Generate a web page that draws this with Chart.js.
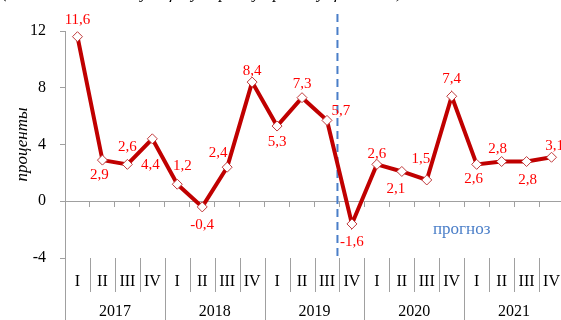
<!DOCTYPE html>
<html>
<head>
<meta charset="utf-8">
<script src="https://cdn.jsdelivr.net/npm/chart.js@4.4.1/dist/chart.umd.min.js"></script>
<style>
  html, body { margin: 0; padding: 0; background: #fff; overflow: hidden; }
  #wrap { position: relative; width: 570px; height: 320px; }
  #note { position: absolute; left: 2px; top: -17px; font: italic 17px "Liberation Serif", serif; white-space: nowrap; color: #000; }
</style>
</head>
<body>
<div id="wrap">
  <canvas id="chart" width="570" height="320" style="width:570px;height:320px"></canvas>
  <div id="note">(в % к соответствующему периоду предыдущего года)</div>
</div>
<script>
const quarters = ['I', 'II', 'III', 'IV', 'I', 'II', 'III', 'IV', 'I', 'II', 'III', 'IV',
                  'I', 'II', 'III', 'IV', 'I', 'II', 'III', 'IV'];
const years = ['2017', '2018', '2019', '2020', '2021'];
const growth = [11.6, 2.9, 2.6, 4.4, 1.2, -0.4, 2.4, 8.4, 5.3, 7.3, 5.7, -1.6,
                2.6, 2.1, 1.5, 7.4, 2.6, 2.8, 2.8, 3.1];
const yMin = -4, yMax = 12, yStep = 4;
const forecastText = 'прогноз';

// label nudges [dx, dy] from each point (style only)
const labelShift = [[0,-17],[-3,15],[0,-17],[-2,26],[5,-18],[0,18],[-9,-14],[0,-11],[0,16],[0,-14],
                    [14,-9],[0,18],[0,-10],[-6,18],[-6,-21],[0,-17],[-3,15],[-4,-12],[1,19],[3,-11]];

const gray = '#A0A0A0';
const serif = '"Liberation Serif", "Times New Roman", serif';

const decor = {
  id: 'decor',
  beforeDatasetsDraw(chart) {
    const {ctx, chartArea, scales: {x, y}} = chart;
    // forecast divider
    const fx = x.getPixelForValue(10.42);
    ctx.save();
    ctx.strokeStyle = '#4A7EC8';
    ctx.lineWidth = 2;
    ctx.setLineDash([8, 5]);
    ctx.beginPath();
    ctx.moveTo(fx, chartArea.top - 17);
    ctx.lineTo(fx, chartArea.bottom - 2);
    ctx.stroke();
    ctx.restore();
  },
  afterDatasetsDraw(chart) {
    const {ctx, chartArea, scales: {x, y}} = chart;
    const meta = chart.getDatasetMeta(0);
    ctx.save();
    // value labels
    ctx.font = '15px ' + serif;
    ctx.fillStyle = '#FF0000';
    ctx.textAlign = 'center';
    ctx.textBaseline = 'middle';
    meta.data.forEach((pt, i) => {
      const s = labelShift[i];
      ctx.fillText(growth[i].toFixed(1).replace('.', ','), pt.x + s[0], pt.y + s[1]);
    });
    // forecast caption
    ctx.font = '17px ' + serif;
    ctx.fillStyle = '#4A7EC8';
    ctx.fillText(forecastText, x.getPixelForValue(15.4), y.getPixelForValue(-2));
    // category separators and years
    ctx.strokeStyle = gray;
    ctx.lineWidth = 1;
    const h = chart.height;
    for (let k = 0; k <= quarters.length; k++) {
      const bx = Math.round(x.getPixelForValue(k - 0.5)) + 0.5;
      ctx.beginPath();
      ctx.moveTo(bx, chartArea.bottom);
      ctx.lineTo(bx, k % 4 === 0 ? h : chartArea.bottom + 34);
      ctx.stroke();
    }
    ctx.font = '16px ' + serif;
    ctx.fillStyle = '#000';
    years.forEach((yr, i) => {
      ctx.fillText(yr, x.getPixelForValue(i * 4 + 1.5), chartArea.bottom + 54);
    });
    ctx.restore();
  }
};

new Chart(document.getElementById('chart'), {
  type: 'line',
  data: {
    labels: quarters,
    datasets: [{
      data: growth,
      borderColor: '#C00000',
      borderWidth: 4,
      pointStyle: 'rectRot',
      pointRadius: 5,
      pointBorderWidth: 1,
      pointBorderColor: '#C0393B',
      pointBackgroundColor: '#FFFFFF',
      tension: 0
    }]
  },
  options: {
    responsive: false,
    animation: false,
    events: [],
    layout: { padding: { top: 31, right: 0, bottom: 0, left: 0 } },
    plugins: { legend: { display: false }, tooltip: { enabled: false } },
    scales: {
      x: {
        type: 'category',
        position: { y: 0 },
        offset: true,
        ticks: { display: false },
        grid: { display: true, offset: true, drawOnChartArea: false, drawTicks: true, tickLength: 5, color: gray },
        border: { display: true, color: gray, width: 1 }
      },
      x2: {
        type: 'category',
        position: 'bottom',
        labels: quarters,
        offset: true,
        grid: { display: false },
        border: { display: false },
        ticks: { color: '#000', font: { family: serif, size: 16 }, padding: 6, maxRotation: 0, autoSkip: false },
        afterFit: s => { s.height = 62; }
      },
      y: {
        min: yMin,
        max: yMax,
        afterFit: s => { s.width = 65; },
        ticks: { stepSize: yStep, color: '#000', font: { family: serif, size: 16 }, padding: 14 },
        grid: { display: true, drawOnChartArea: false, drawTicks: true, tickLength: 5, color: gray },
        border: { display: true, color: gray, width: 1 },
        title: { display: true, text: 'проценты', color: '#000', font: { family: serif, size: 17, style: 'italic' }, padding: { top: 12, bottom: 0 } }
      }
    }
  },
  plugins: [decor]
});
</script>
</body>
</html>
